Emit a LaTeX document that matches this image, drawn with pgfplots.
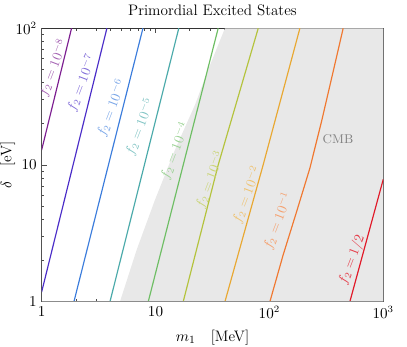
\documentclass[border=0pt]{standalone}
\usepackage{pgfplots}
\pgfplotsset{compat=1.18}
\definecolor{c8}{RGB}{125,30,145}
\definecolor{c7}{RGB}{75,45,200}
\definecolor{c6}{RGB}{60,125,220}
\definecolor{c5}{RGB}{75,170,170}
\definecolor{c4}{RGB}{110,190,100}
\definecolor{c3}{RGB}{180,195,60}
\definecolor{c2}{RGB}{232,168,50}
\definecolor{c1}{RGB}{240,120,48}
\definecolor{c0}{RGB}{225,25,40}
\definecolor{shade}{RGB}{232,232,232}
\begin{document}
\begin{tikzpicture}
\useasboundingbox (-30.2pt,-32.8pt) rectangle (264.7pt,218.6pt);
\begin{axis}[
  xmode=log, ymode=log,
  scale only axis, width=247.5pt, height=198.1pt,
  xmin=1, xmax=1000, ymin=1, ymax=100,
  xtick={1,10,100,1000}, xticklabels={$1$,$10$,$10^2$,$10^3$},
  ytick={1,10,100}, yticklabels={$1$,$10$,$10^2$},
  tick label style={font=\fontsize{10.5}{12}\selectfont},
  major tick length=3.6pt, minor tick length=2pt,
  tick style={black!70, line width=0.5pt},
  axis line style={black!80, line width=0.6pt},
  every axis title shift=0pt,
  title={Primordial Excited States},
  title style={at={(axis description cs:0.5,1)}, anchor=base, yshift=9.6pt, font=\fontsize{11}{13}\selectfont},
  xlabel={$m_1$\quad[MeV]},
  xlabel style={at={([yshift=-29pt]axis description cs:0.5,0)}, anchor=base, font=\fontsize{11}{13}\selectfont},
  ylabel={$\delta$\quad[eV]},
  ylabel style={at={([xshift=-22pt]axis description cs:0,0.5)}, anchor=base, font=\fontsize{11}{13}\selectfont},
  clip=true,
]
% CMB excluded region
\addplot[fill=shade, draw=none] coordinates {
  (4.87,1) (6.82,2.39) (9.88,5.55) (14.8,12.9) (22.2,27.5) (28.9,49.5) (40.7,100) (1000,100) (1000,1) (4.87,1)};
% contours
\addplot[c8, line width=0.85pt] coordinates {(1,12.9) (1.83,100)};
\addplot[c7, line width=0.85pt] coordinates {(1,1.18) (3.74,100)};
\addplot[c6, line width=0.85pt] coordinates {(1.92,1) (7.75,100)};
\addplot[c5, line width=0.85pt] coordinates {(3.98,1) (16.0,100)};
\addplot[c4, line width=0.85pt] coordinates {(8.63,1) (35.5,100)};
\addplot[c3, line width=0.85pt] coordinates {(17.5,1) (35.5,10) (79.8,100)};
\addplot[c2, line width=0.85pt] coordinates {(40.7,1) (88.1,10) (185.3,100)};
\addplot[c1, line width=0.85pt] coordinates {(101,1) (132.1,2.20) (173.3,4.55) (226.6,9.46) (287,20.8) (363,48.2) (444.6,100)};
\addplot[c0, line width=0.85pt] coordinates {(509,1) (1000,7.86)};
% gray left/bottom frame
\draw[black!45, line width=1.1pt] (rel axis cs:0,1) -- (rel axis cs:0,0) -- (rel axis cs:1,0);
% labels
\begin{scope}[every node/.style={rotate=69, font=\fontsize{10}{12}\selectfont}]
\node[text=c8!70!white] at (axis cs:1.26,51.3) {$f_2 = 10^{-8}$};
\node[text=c7!70!white] at (axis cs:2.24,39.8) {$f_2 = 10^{-7}$};
\node[text=c6!70!white] at (axis cs:4.1,26.0) {$f_2 = 10^{-6}$};
\node[text=c5!70!white] at (axis cs:7.3,19.0) {$f_2 = 10^{-5}$};
\node[text=c4!70!white] at (axis cs:14.8,12.7) {$f_2 = 10^{-4}$};
\node[text=c3!70!white] at (axis cs:30.1,7.77) {$f_2 = 10^{-3}$};
\node[text=c2!70!white] at (axis cs:63.4,6.04) {$f_2 = 10^{-2}$};
\node[text=c1!70!white] at (axis cs:118.6,3.89) {$f_2 = 10^{-1}$};
\node[text=c0!85!white] at (axis cs:530,2.02) {$f_2 = 1/2$};
\end{scope}
\node[text=black!50, font=\fontsize{9.2}{11}\selectfont] at (axis cs:400,15.5) {CMB};
\end{axis}
\end{tikzpicture}
\end{document}
